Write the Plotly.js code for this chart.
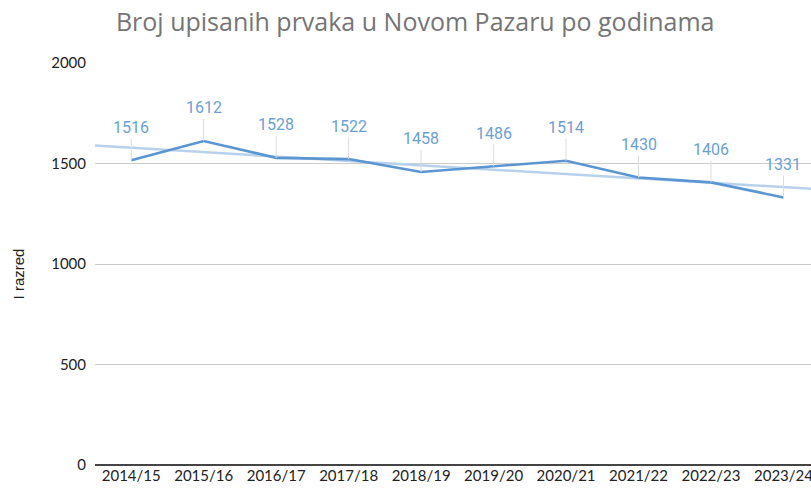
<!DOCTYPE html>
<html>
<head>
<meta charset="utf-8">
<script src="https://cdn.plot.ly/plotly-3.0.1.min.js"></script>
<style>body{margin:0;padding:0;background:#fff}#chart{width:811px;height:490px}</style>
</head>
<body>
<div id="chart"></div>
<script>
const years = ["2014/15","2015/16","2016/17","2017/18","2018/19","2019/20","2020/21","2021/22","2022/23","2023/24"];
const pupils = [1516,1612,1528,1522,1458,1486,1514,1430,1406,1331];
const yTicks = [0,500,1000,1500,2000];

// least-squares trendline computed from the data
const n = pupils.length;
const idx = pupils.map((_, i) => i);
const mx = idx.reduce((a,b)=>a+b,0)/n;
const my = pupils.reduce((a,b)=>a+b,0)/n;
let sxy = 0, sxx = 0;
idx.forEach((i)=>{ sxy += (i-mx)*(pupils[i]-my); sxx += (i-mx)*(i-mx); });
const slope = sxy/sxx, icpt = my - slope*mx;
const tx = [-0.5, n - 0.5];
const ty = tx.map(x => icpt + slope*x);

const traces = [
  {x: tx, y: ty, type:'scatter', mode:'lines', line:{color:'#b7d1ec', width:2.5}, hoverinfo:'skip', showlegend:false},
  {x: idx, y: pupils, type:'scatter', mode:'lines', line:{color:'#5b95d2', width:2.6}, showlegend:false}
];

const annotations = pupils.map((v,i)=>({
  x: i, y: v, xref:'x', yref:'y', text: String(v),
  showarrow: true, arrowhead: 0, arrowwidth: 1, arrowcolor: '#dcdcdc',
  ax: 0, ay: -33, standoff: 0,
  font: {family:'Roboto, sans-serif', size: 16, color:'#6a9fd6'}
}));
annotations.push({
  xref:'paper', yref:'paper', x:-0.107, y:0.475, xanchor:'center', yanchor:'middle',
  text:'I razred', textangle:-90, showarrow:false,
  font:{family:'Liberation Sans, Arial, sans-serif', size:15, color:'#222'}
});

const layout = {
  width: 811, height: 490,
  margin: {l:95, r:0, t:63, b:25},
  paper_bgcolor:'#fff', plot_bgcolor:'#fff',
  title: {text:'Broj upisanih prvaka u Novom Pazaru po godinama', x:0.512, xanchor:'center', y:0.955, yanchor:'middle',
          font:{family:'Open Sans, sans-serif', size:25, color:'#757575'}},
  xaxis: {type:'linear', range:[-0.5, 9.38], tickvals: idx, ticktext: years, showgrid:false, zeroline:false,
          showline:false, ticks:'', ticklabeloverflow:'allow',
          tickfont:{family:'Lato, sans-serif', size:15, color:'#222'}, fixedrange:true},
  yaxis: {range:[0,2000], tickvals: yTicks, ticktext: yTicks.map(String), showgrid:true, gridcolor:'#cccccc', gridwidth:1,
          zeroline:true, zerolinecolor:'#444', zerolinewidth:1.3, ticks:'', ticklabelstandoff: 8,
          tickfont:{family:'Lato, sans-serif', size:15, color:'#222'}},
  annotations: annotations
};

Plotly.newPlot('chart', traces, layout, {displayModeBar:false, staticPlot:true});
</script>
</body>
</html>
